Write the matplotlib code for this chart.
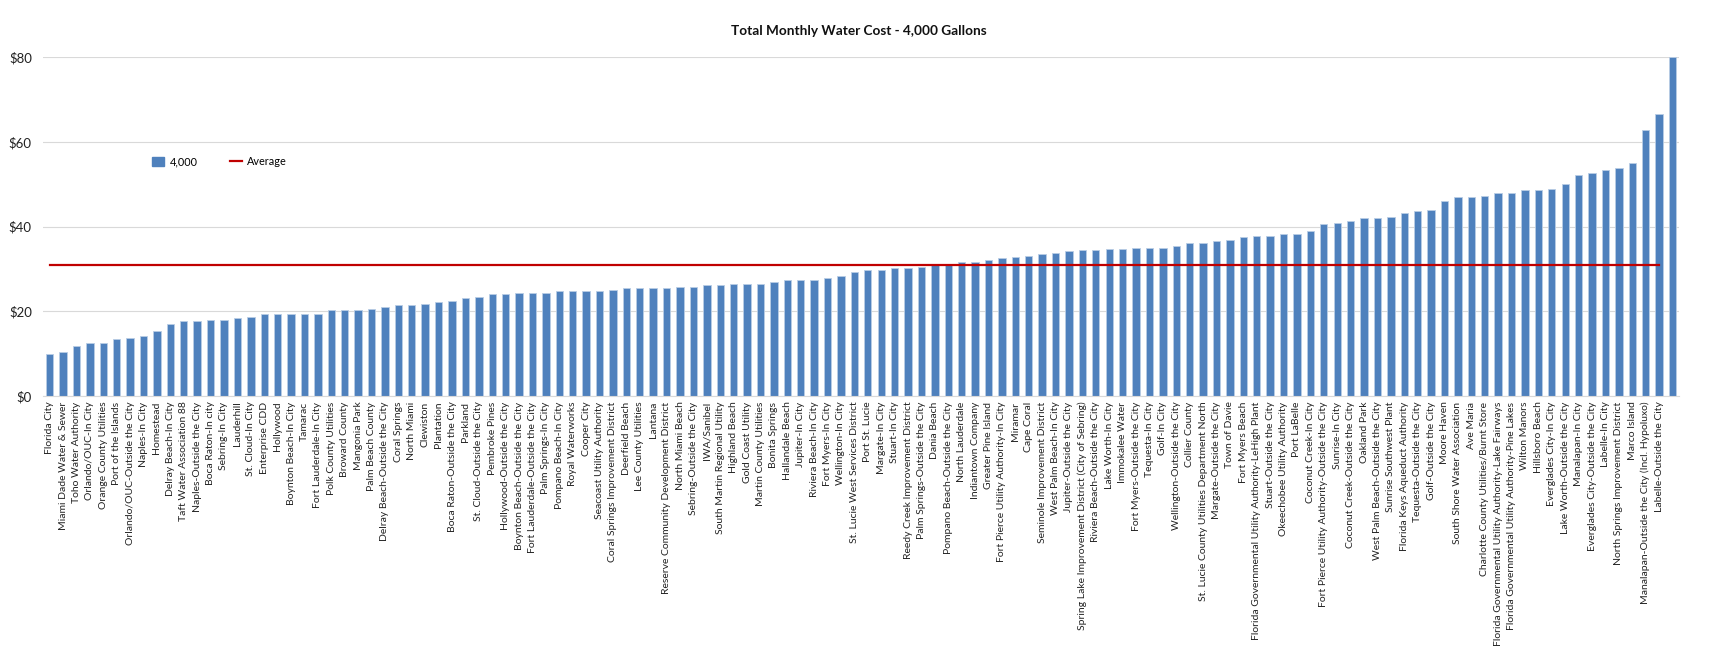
import matplotlib
matplotlib.use("Agg")
import matplotlib.pyplot as plt
from matplotlib.lines import Line2D
from matplotlib.patches import Patch
from matplotlib.ticker import FuncFormatter

categories = [
    "Florida City", "Miami Dade Water & Sewer", "Toho Water Authority", "Orlando/OUC-In City",
    "Orange County Utilities", "Port of the Islands", "Orlando/OUC-Outside the City", "Naples-In City",
    "Homestead", "Delray Beach-In City", "Taft Water Association 88", "Naples-Outside the City",
    "Boca Raton-In city", "Sebring-In City", "Lauderhill", "St. Cloud-In City", "Enterprise CDD",
    "Hollywood", "Boynton Beach-In City", "Tamarac", "Fort Lauderdale-In City", "Polk County Utilities",
    "Broward County", "Mangonia Park", "Palm Beach County", "Delray Beach-Outside the City",
    "Coral Springs", "North Miami", "Clewiston", "Plantation", "Boca Raton-Outside the City",
    "Parkland", "St. Cloud-Outside the City", "Pembroke Pines", "Hollywood-Outside the City",
    "Boynton Beach-Outside the City", "Fort Lauderdale-Outside the City", "Palm Springs-In City",
    "Pompano Beach-In City", "Royal Waterworks", "Cooper City", "Seacoast Utility Authority",
    "Coral Springs Improvement District", "Deerfield Beach", "Lee County Utilities", "Lantana",
    "Reserve Community Development District", "North Miami Beach", "Sebring-Outside the City",
    "IWA/Sanibel", "South Martin Regional Utility", "Highland Beach", "Gold Coast Utility",
    "Martin County Utilities", "Bonita Springs", "Hallandale Beach", "Jupiter-In City",
    "Riviera Beach-In City", "Fort Myers-In City", "Wellington-In City",
    "St. Lucie West Services District", "Port St. Lucie", "Margate-In City", "Stuart-In City",
    "Reedy Creek Improvement District", "Palm Springs-Outside the City", "Dania Beach",
    "Pompano Beach-Outside the City", "North Lauderdale", "Indiantown Company", "Greater Pine Island",
    "Fort Pierce Utility Authority-In City", "Miramar", "Cape Coral", "Seminole Improvement District",
    "West Palm Beach-In City", "Jupiter-Outside the City",
    "Spring Lake Improvement District (City of Sebring)", "Riviera Beach-Outside the City",
    "Lake Worth-In City", "Immokalee Water", "Fort Myers-Outside the City", "Tequesta-In City",
    "Golf-In City", "Wellington-Outside the City", "Collier County",
    "St. Lucie County Utilities Department North", "Margate-Outside the City", "Town of Davie",
    "Fort Myers Beach", "Florida Governmental Utility Authority-LeHigh Plant",
    "Stuart-Outside the City", "Okeechobee Utility Authority", "Port LaBelle", "Coconut Creek-In City",
    "Fort Pierce Utility Authority-Outside the City", "Sunrise-In City",
    "Coconut Creek-Outside the City", "Oakland Park", "West Palm Beach-Outside the City",
    "Sunrise Southwest Plant", "Florida Keys Aqueduct Authority", "Tequesta-Outside the City",
    "Golf-Outside the City", "Moore Haven", "South Shore Water Association", "Ave Maria",
    "Charlotte County Utilities/Burnt Store",
    "Florida Governmental Utility Authority-Lake Fairways",
    "Florida Governmental Utility Authority-Pine Lakes", "Wilton Manors", "Hillsboro Beach",
    "Everglades City-In City", "Lake Worth-Outside the City", "Manalapan-In City",
    "Everglades City-Outside the City", "Labelle-In City", "North Springs Improvement District",
    "Marco Island", "Manalapan-Outside the City (Incl. Hypoluxo)", "Labelle-Outside the City", "",
]

cost_4000 = [
    9.9, 10.5, 11.9, 12.4, 12.6, 13.4, 13.6, 14.2, 15.3, 16.9,
    17.6, 17.7, 18.0, 18.0, 18.5, 18.7, 19.4, 19.4, 19.4, 19.4,
    19.4, 20.2, 20.2, 20.4, 20.6, 21.0, 21.4, 21.4, 21.7, 22.2,
    22.5, 23.1, 23.4, 24.1, 24.1, 24.2, 24.3, 24.3, 24.7, 24.7,
    24.7, 24.7, 24.9, 25.5, 25.6, 25.6, 25.6, 25.8, 25.8, 26.1,
    26.1, 26.4, 26.5, 26.5, 26.8, 27.3, 27.4, 27.4, 27.9, 28.3,
    29.2, 29.7, 29.8, 30.1, 30.3, 30.5, 30.8, 30.9, 31.6, 31.7,
    32.0, 32.5, 32.7, 33.0, 33.5, 33.8, 34.2, 34.4, 34.4, 34.7,
    34.7, 34.9, 34.9, 34.9, 35.3, 36.0, 36.0, 36.6, 36.8, 37.5,
    37.7, 37.8, 38.3, 38.3, 38.9, 40.7, 40.9, 41.4, 42.1, 42.1,
    42.3, 43.1, 43.7, 43.8, 46.0, 47.0, 47.0, 47.3, 47.9, 47.9,
    48.6, 48.6, 48.8, 50.0, 52.1, 52.7, 53.3, 53.8, 55.0, 62.8,
    66.6, 80.0,
]

average_value = 31.0
n_average_points = 121

y_ticks = [0, 20, 40, 60, 80]
title = "Total Monthly Water Cost - 4,000 Gallons"

plt.rcParams['font.family'] = ['Lato', 'DejaVu Sans']

fig = plt.figure(figsize=(17.17, 6.60), dpi=100)
ax = fig.add_axes([0.025, 0.40, 0.953, 0.5136])

x = list(range(len(cost_4000)))
ax.bar(x, cost_4000, width=0.55, color="#4F81BD", edgecolor="#B9CDE5", linewidth=0.6, zorder=2)
ax.plot(list(range(n_average_points)), [average_value] * n_average_points,
        color="#C00000", linewidth=1.6, zorder=3)

ax.set_xlim(-0.5, len(cost_4000) - 0.5)
ax.set_ylim(0, 80)
ax.set_yticks(y_ticks)
ax.yaxis.set_major_formatter(FuncFormatter(lambda v, p: f"${v:.0f}"))
ax.set_xticks(x)
ax.set_xticklabels(categories, rotation=90, fontsize=7.5, color="#222222")
ax.tick_params(axis="x", length=0, pad=4)
ax.tick_params(axis="y", length=0, pad=8, labelsize=9.5, labelcolor="#222222")
ax.grid(axis="y", color="#D9D9D9", linewidth=0.8, zorder=0)
ax.set_axisbelow(True)
for s in ["top", "right", "left"]:
    ax.spines[s].set_visible(False)
ax.spines["bottom"].set_color("#D9D9D9")

fig.text(0.5, 0.953, title, ha="center", va="center", fontsize=9.8, fontweight="bold", color="#111111")

handles = [Patch(facecolor="#4F81BD", edgecolor="#4F81BD"),
           Line2D([0], [0], color="#C00000", linewidth=1.6)]
fig.legend(handles, ["4,000", "Average"], loc="center left", bbox_to_anchor=(0.083, 0.755),
           ncol=2, frameon=False, fontsize=7.8, handlelength=1.1, handleheight=0.9,
           columnspacing=3.0, handletextpad=0.5)

fig.savefig("out.png", dpi=100)
